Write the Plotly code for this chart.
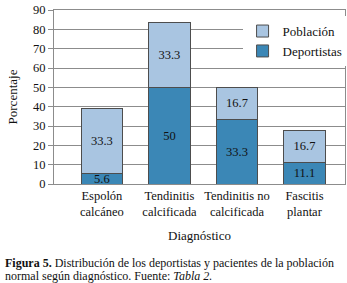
import plotly.graph_objects as go

categorias = ["Espolón<br>calcáneo", "Tendinitis<br>calcificada", "Tendinitis no<br>calcificada", "Fascitis<br>plantar"]
deportistas = [5.6, 50, 33.3, 11.1]
poblacion = [33.3, 33.3, 16.7, 16.7]
y_ticks = [0, 10, 20, 30, 40, 50, 60, 70, 80, 90]
caption_1 = "<b>Figura 5.</b> Distribución de los deportistas y pacientes de la población"
caption_2 = "normal según diagnóstico. Fuente: <i>Tabla 2.</i>"

FONT = "Liberation Serif"
FS = 12.5
fig = go.Figure()
fig.add_trace(go.Bar(
    x=categorias, y=deportistas, name="Deportistas",
    marker=dict(color="#3b87b6", line=dict(color="#4d4d4d", width=1)),
    text=[f"{v:g}" for v in deportistas], textposition="inside",
    insidetextanchor="middle", constraintext="none",
    textfont=dict(family=FONT, size=FS, color="#111111"),
    width=0.61,
))
fig.add_trace(go.Bar(
    x=categorias, y=poblacion, name="Población",
    marker=dict(color="#a9c5e1", line=dict(color="#4d4d4d", width=1)),
    text=[f"{v:g}" for v in poblacion], textposition="inside",
    insidetextanchor="middle", constraintext="none",
    textfont=dict(family=FONT, size=FS, color="#111111"),
    width=0.61,
))

cap_font = dict(family=FONT, size=12, color="#111111")
fig.update_layout(
    width=347, height=283,
    margin=dict(l=54, r=2, t=10, b=99, autoexpand=False),
    barmode="stack",
    paper_bgcolor="white", plot_bgcolor="white",
    font=dict(family=FONT, size=FS, color="#111111"),
    showlegend=True,
    legend=dict(
        x=0.648, y=0.965, xanchor="left", yanchor="top",
        traceorder="reversed", bgcolor="white",
        font=dict(family=FONT, size=13),
        itemwidth=30, tracegroupgap=0, borderwidth=0,
    ),
    xaxis=dict(
        range=[-0.709, 3.6], showline=True, mirror=True, linecolor="#8c8c8c",
        linewidth=1, ticks="", tickangle=0, automargin=False,
        tickfont=dict(family=FONT, size=FS),
        title=dict(text="Diagnóstico", font=dict(family=FONT, size=13), standoff=12),
    ),
    yaxis=dict(
        range=[0, 90], tickvals=y_ticks, showgrid=True, gridcolor="#8c8c8c",
        gridwidth=1, showline=True, mirror=True, linecolor="#8c8c8c", linewidth=1,
        ticks="outside", ticklen=5, tickcolor="#8c8c8c", automargin=False,
        tickfont=dict(family=FONT, size=FS),
        title=dict(text="Porcentaje", font=dict(family=FONT, size=13), standoff=12),
    ),
    annotations=[
        dict(text=caption_1, xref="paper", yref="paper", x=-51/291, y=-79/174,
             xanchor="left", yanchor="middle", align="left", showarrow=False, font=cap_font),
        dict(text=caption_2, xref="paper", yref="paper", x=-51/291, y=-92/174,
             xanchor="left", yanchor="middle", align="left", showarrow=False, font=cap_font),
    ],
)

fig.write_html("out.html", config={"displayModeBar": False},
               post_script="document.body.style.margin='0';")
